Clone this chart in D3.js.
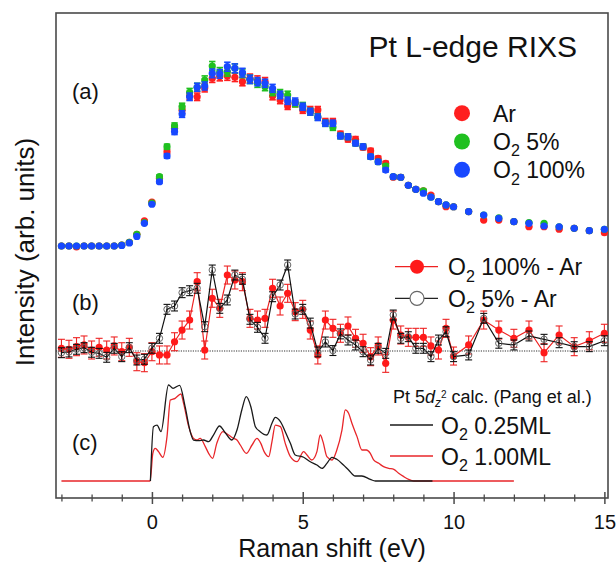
<!DOCTYPE html>
<html>
<head>
<meta charset="utf-8">
<script src="https://cdn.jsdelivr.net/npm/d3@7"></script>
<style>
body { margin: 0; background: #fff; }
text { font-family: "Liberation Sans", Arial, sans-serif; fill: #111; }
</style>
</head>
<body>
<script>
// Raman shift of the measured points (eV)
const energy = [-3, -2.75, -2.5, -2.25, -2, -1.75, -1.5, -1.25, -1, -0.75, -0.5, -0.25, 0, 0.25, 0.5, 0.75, 1, 1.25, 1.5, 1.75, 2, 2.25, 2.5, 2.75, 3, 3.25, 3.5, 3.75, 4, 4.25, 4.5, 4.75, 5, 5.25, 5.5, 5.75, 6, 6.25, 6.5, 6.75, 7, 7.25, 7.5, 7.75, 8, 8.25, 8.5, 8.75, 9, 9.25, 9.5, 9.75, 10, 10.5, 11, 11.5, 12, 12.5, 13, 13.5, 14, 14.5, 15];

// (a) RIXS spectra, normalised
const ar = [0, 0, -0.005, 0, 0, 0, 0, 0, 0.005, 0.02, 0.065, 0.14, 0.244, 0.376, 0.524, 0.654, 0.756, 0.833, 0.829, 0.878, 0.932, 0.941, 0.944, 0.937, 0.913, 0.932, 0.922, 0.913, 0.833, 0.811, 0.778, 0.793, 0.756, 0.756, 0.756, 0.691, 0.691, 0.622, 0.593, 0.593, 0.548, 0.529, 0.487, 0.459, 0.382, 0.382, 0.337, 0.315, 0.306, 0.283, 0.246, 0.218, 0.218, 0.191, 0.144, 0.144, 0.135, 0.107, 0.107, 0.093, 0.098, 0.085, 0.074];
const o2_5 = [0, 0, 0, 0, 0, 0, 0, 0, 0.005, 0.02, 0.065, 0.13, 0.239, 0.385, 0.552, 0.667, 0.774, 0.854, 0.882, 0.922, 1.0, 0.967, 0.968, 0.987, 0.959, 0.926, 0.904, 0.885, 0.857, 0.848, 0.839, 0.793, 0.778, 0.746, 0.717, 0.682, 0.659, 0.611, 0.607, 0.571, 0.552, 0.496, 0.468, 0.444, 0.385, 0.382, 0.337, 0.315, 0.306, 0.271, 0.246, 0.228, 0.218, 0.191, 0.172, 0.156, 0.135, 0.13, 0.126, 0.107, 0.098, 0.085, 0.093];
const o2_100 = [0, 0, 0, 0, 0, 0, 0, 0, 0.003, 0.017, 0.053, 0.126, 0.232, 0.357, 0.5, 0.635, 0.733, 0.829, 0.882, 0.889, 0.959, 0.956, 0.996, 0.987, 0.963, 0.926, 0.913, 0.904, 0.876, 0.839, 0.807, 0.802, 0.774, 0.746, 0.715, 0.682, 0.682, 0.611, 0.607, 0.571, 0.552, 0.496, 0.468, 0.422, 0.385, 0.382, 0.337, 0.315, 0.293, 0.271, 0.246, 0.228, 0.218, 0.191, 0.172, 0.154, 0.135, 0.126, 0.111, 0.107, 0.098, 0.085, 0.093];
const relErrA = 0.025;

// (b) difference spectra
const diff100 = [0.03, 0.019, 0.048, 0.067, 0.011, 0.041, 0.011, 0.056, -0.008, 0.041, -0.119, -0.13, -0.008, -0.044, -0.044, 0.103, 0.233, 0.344, 0.77, 0.011, 0.586, 0.474, 0.844, 0.789, 0.77, 0.363, 0.344, 0.363, 0.697, 0.5, 0.641, 0.437, 0.463, 0.233, -0.044, 0.344, 0.252, 0.197, 0.278, 0.141, 0.086, -0.063, 0.056, -0.137, 0.344, 0.178, 0.152, 0.152, 0.152, 0.056, 0.011, 0.252, -0.056, 0.067, 0.344, 0.233, 0.141, 0.233, -0.019, 0.178, 0.048, 0.114, 0.197];
const diff5 = [-0.019, -0.011, 0.019, 0.037, -0.014, -0.026, -0.07, 0.03, -0.063, 0.037, -0.1, -0.092, 0.03, 0.141, 0.463, 0.5, 0.648, 0.67, 0.697, 0.27, 0.9, 0.474, 0.567, 0.844, 0.797, 0.352, 0.263, 0.141, 0.603, 0.733, 0.956, 0.411, 0.463, 0.31, -0.01, 0.1, 0.005, 0.19, 0.122, 0.067, -0.008, -0.1, 0.03, -0.026, 0.4, 0.141, 0.159, 0.03, 0.03, -0.063, 0.122, 0.214, -0.063, -0.044, 0.363, 0.086, 0.067, 0.167, 0.13, 0.092, 0.048, 0.048, 0.114];
const errDiff100 = 0.1;
const errDiff5 = 0.055;

// (c) calculated Pt 5d_z2 spectra
const calcE025 = [-0.05, 0.05, 0.17, 0.3, 0.55, 0.7, 0.92, 1.1, 1.27, 1.38, 1.55, 1.71, 1.88, 2.04, 2.24, 2.43, 2.65, 2.82, 2.98, 3.13, 3.28, 3.43, 3.59, 3.81, 3.98, 4.09, 4.26, 4.42, 4.59, 4.75, 5.03, 5.25, 5.47, 5.64, 5.8, 5.97, 6.13, 6.35, 6.52, 6.74, 6.96, 7.24, 7.41, 9.3];
const calc025 = [0, 0.566, 0.583, 0.514, 1.0, 0.965, 0.997, 0.774, 0.514, 0.427, 0.42, 0.427, 0.41, 0.479, 0.573, 0.503, 0.427, 0.531, 0.74, 0.878, 0.774, 0.566, 0.514, 0.479, 0.601, 0.663, 0.618, 0.514, 0.392, 0.271, 0.247, 0.201, 0.167, 0.132, 0.184, 0.247, 0.226, 0.167, 0.115, 0.052, 0.052, 0.017, 0, 0];
const calcE100 = [-3, -0.06, 0.03, 0.11, 0.22, 0.36, 0.5, 0.61, 0.77, 0.96, 1.05, 1.22, 1.38, 1.49, 1.6, 1.77, 1.88, 2.01, 2.15, 2.35, 2.54, 2.71, 2.82, 2.93, 3.13, 3.32, 3.48, 3.61, 3.72, 3.87, 3.98, 4.09, 4.26, 4.42, 4.59, 4.81, 5.03, 5.14, 5.3, 5.47, 5.58, 5.67, 5.8, 5.97, 6.13, 6.3, 6.41, 6.52, 6.63, 6.8, 6.96, 7.11, 7.24, 7.35, 7.52, 7.68, 7.85, 8.02, 8.18, 8.35, 8.51, 8.68, 12];
const calc100 = [0, 0, 0.288, 0.34, 0.306, 0.247, 0.462, 0.844, 0.861, 0.906, 0.809, 0.566, 0.444, 0.427, 0.444, 0.358, 0.288, 0.236, 0.392, 0.514, 0.479, 0.444, 0.427, 0.375, 0.288, 0.375, 0.444, 0.392, 0.306, 0.253, 0.41, 0.583, 0.566, 0.392, 0.253, 0.201, 0.306, 0.271, 0.219, 0.306, 0.479, 0.41, 0.253, 0.219, 0.323, 0.531, 0.74, 0.705, 0.601, 0.462, 0.323, 0.323, 0.288, 0.219, 0.184, 0.149, 0.132, 0.122, 0.08, 0.045, 0.017, 0, 0];

// tick labels
const xMajor = [0, 5, 10, 15];
const xMinor = [-3, -2, -1, 1, 2, 3, 4, 6, 7, 8, 9, 11, 12, 13, 14];

// set the dimensions and margins of the graph
const margin = {top: 13, right: 8, bottom: 64, left: 56},
    width = 616 - margin.left - margin.right,
    height = 562 - margin.top - margin.bottom;

const frameColor = "#4a4a4a";

const svg = d3.select("body")
    .append("svg")
    .attr("width", width + margin.left + margin.right)
    .attr("height", height + margin.top + margin.bottom)
  .append("g")
    .attr("transform", "translate(" + margin.left + "," + margin.top + ")");

// scales: one shared x, one y per stacked panel
const x = d3.scaleLinear().domain([-3.18, 15.12]).range([0, width]);
const yA = d3.scaleLinear().domain([0, 1]).range([233, 53]);
const yB = d3.scaleLinear().domain([0, 1]).range([338, 248]);
const yC = d3.scaleLinear().domain([0, 1]).range([468, 372]);

// frame
svg.append("rect")
    .attr("width", width)
    .attr("height", height)
    .attr("fill", "none")
    .attr("stroke", frameColor)
    .attr("stroke-width", 1.6);

// x axis, ticks crossing the bottom line
const axisMajor = svg.append("g")
    .attr("transform", "translate(0," + height + ")")
    .call(d3.axisBottom(x).tickValues(xMajor).tickSize(0).tickFormat(d3.format("d")));
axisMajor.select(".domain").remove();
axisMajor.selectAll(".tick line")
    .attr("y1", -6).attr("y2", 6)
    .attr("stroke", frameColor).attr("stroke-width", 1.5);
axisMajor.selectAll(".tick text")
    .attr("y", 17).attr("dy", "0.71em")
    .style("font-size", "20px");

const axisMinor = svg.append("g")
    .attr("transform", "translate(0," + height + ")")
    .call(d3.axisBottom(x).tickValues(xMinor).tickSize(0).tickFormat(""));
axisMinor.select(".domain").remove();
axisMinor.selectAll(".tick line")
    .attr("y1", -3.5).attr("y2", 3.5)
    .attr("stroke", frameColor).attr("stroke-width", 1.3);

// axis titles
svg.append("text")
    .attr("x", width / 2)
    .attr("y", 544)
    .attr("text-anchor", "middle")
    .style("font-size", "25px")
    .text("Raman shift (eV)");

svg.append("text")
    .attr("transform", "translate(-22,239)rotate(-90)")
    .attr("text-anchor", "middle")
    .style("font-size", "26px")
    .text("Intensity (arb. units)");

svg.append("text")
    .attr("x", 521)
    .attr("y", 44)
    .attr("text-anchor", "end")
    .style("font-size", "30px")
    .text("Pt L-edge RIXS");

// panel letters
[["(a)", 86], ["(b)", 297], ["(c)", 437]].forEach(function(p) {
  svg.append("text")
      .attr("x", 16)
      .attr("y", p[1])
      .style("font-size", "22px")
      .text(p[0]);
});

// helper for error bars with caps
function errorBars(g, vals, err, yScale, color, cap, width) {
  const pts = energy.map(function(e, i) { return {e: e, v: vals[i], err: err(i)}; });
  g.selectAll(null).data(pts).enter().append("line")
      .attr("x1", function(d) { return x(d.e); })
      .attr("x2", function(d) { return x(d.e); })
      .attr("y1", function(d) { return yScale(d.v - d.err); })
      .attr("y2", function(d) { return yScale(d.v + d.err); })
      .attr("stroke", color).attr("stroke-width", width);
  [-1, 1].forEach(function(s) {
    g.selectAll(null).data(pts).enter().append("line")
        .attr("x1", function(d) { return x(d.e) - cap; })
        .attr("x2", function(d) { return x(d.e) + cap; })
        .attr("y1", function(d) { return yScale(d.v + s * d.err); })
        .attr("y2", function(d) { return yScale(d.v + s * d.err); })
        .attr("stroke", color).attr("stroke-width", width);
  });
}

// subscripted O2 labels
function o2Label(t, rest, size) {
  t.append("tspan").text("O");
  t.append("tspan").attr("dy", size * 0.28).style("font-size", (size * 0.7) + "px").text("2");
  t.append("tspan").attr("dy", -size * 0.28).text(" " + rest);
}

// ---- panel (a)
const seriesA = [
  {values: ar, color: "#ff1f1f"},
  {values: o2_5, color: "#20c020"},
  {values: o2_100, color: "#1848ff"}
];

seriesA.forEach(function(s) {
  const g = svg.append("g");
  errorBars(g, s.values, function(i) { return Math.abs(s.values[i]) * relErrA; }, yA, s.color, 3.2, 1.6);
  g.selectAll(null).data(energy).enter().append("circle")
      .attr("cx", function(d) { return x(d); })
      .attr("cy", function(d, i) { return yA(s.values[i]); })
      .attr("r", 3.6)
      .attr("fill", s.color);
});

// legend (a)
const legA = [["Ar", null, "#ff1f1f"], ["O", "5%", "#20c020"], ["O", "100%", "#1848ff"]];
legA.forEach(function(l, i) {
  const yy = 108.7 + i * 28.3;
  svg.append("circle").attr("cx", 406).attr("cy", yy - 8.5).attr("r", 8).attr("fill", l[2]);
  const t = svg.append("text").attr("x", 437).attr("y", yy).style("font-size", "23px");
  if (l[1] === null) t.text(l[0]); else o2Label(t, l[1], 23);
});

// ---- panel (b)
svg.append("line")
    .attr("x1", 0).attr("x2", width)
    .attr("y1", yB(0)).attr("y2", yB(0))
    .attr("stroke", "#333").attr("stroke-width", 1.2)
    .attr("stroke-dasharray", "1.2,1.2");

const lineB = function(vals) {
  return d3.line()
      .x(function(d) { return x(d); })
      .y(function(d, i) { return yB(vals[i]); })(energy);
};

// O2 100% - Ar
const gRed = svg.append("g");
gRed.append("path").attr("d", lineB(diff100))
    .attr("fill", "none").attr("stroke", "#ee2222").attr("stroke-width", 1.2);
errorBars(gRed, diff100, function() { return errDiff100; }, yB, "#ee2222", 3.5, 1.1);
gRed.selectAll(null).data(energy).enter().append("circle")
    .attr("cx", function(d) { return x(d); })
    .attr("cy", function(d, i) { return yB(diff100[i]); })
    .attr("r", 3.6)
    .attr("fill", "#ff1a1a");

// O2 5% - Ar
const gBlk = svg.append("g");
gBlk.append("path").attr("d", lineB(diff5))
    .attr("fill", "none").attr("stroke", "#111").attr("stroke-width", 1.2);
errorBars(gBlk, diff5, function() { return errDiff5; }, yB, "#111", 3.5, 1.1);
gBlk.selectAll(null).data(energy).enter().append("circle")
    .attr("cx", function(d) { return x(d); })
    .attr("cy", function(d, i) { return yB(diff5[i]); })
    .attr("r", 3.2)
    .attr("fill", "none")
    .attr("stroke", "#666").attr("stroke-width", 1);

// legend (b)
[["100% - Ar", "#ee2222", true], ["5% - Ar", "#222", false]].forEach(function(l, i) {
  const yy = 253.7 + i * 31.6;
  svg.append("line").attr("x1", 339).attr("x2", 382).attr("y1", yy).attr("y2", yy)
      .attr("stroke", l[1]).attr("stroke-width", 1.3);
  svg.append("circle").attr("cx", 361).attr("cy", yy).attr("r", 7)
      .attr("fill", l[2] ? "#ff1a1a" : "#fff")
      .attr("stroke", l[2] ? "none" : "#666").attr("stroke-width", 1.2);
  const t = svg.append("text").attr("x", 392).attr("y", yy + 8.5).style("font-size", "23px");
  o2Label(t, l[0], 23);
});

// ---- panel (c)
const lineC = d3.line()
    .x(function(d) { return x(d[0]); })
    .y(function(d) { return yC(d[1]); })
    .curve(d3.curveMonotoneX);

svg.append("path")
    .attr("d", lineC(calcE100.map(function(e, i) { return [e, calc100[i]]; })))
    .attr("fill", "none").attr("stroke", "#e8262a").attr("stroke-width", 1.3);
svg.append("path")
    .attr("d", lineC(calcE025.map(function(e, i) { return [e, calc025[i]]; })))
    .attr("fill", "none").attr("stroke", "#1a1a1a").attr("stroke-width", 1.3);

// legend (c)
const calcTitle = svg.append("text").attr("x", 337).attr("y", 390).style("font-size", "18px");
calcTitle.append("tspan").text("Pt 5");
calcTitle.append("tspan").style("font-style", "italic").text("d");
calcTitle.append("tspan").attr("dy", 4).style("font-size", "12px").style("font-style", "italic").text("z");
calcTitle.append("tspan").attr("dy", -9).style("font-size", "10px").text("2");
calcTitle.append("tspan").attr("dy", 5).text(" calc. (Pang et al.)");

[["0.25ML", "#1a1a1a"], ["1.00ML", "#e8262a"]].forEach(function(l, i) {
  const yy = 412 + i * 31;
  svg.append("line").attr("x1", 334).attr("x2", 377).attr("y1", yy).attr("y2", yy)
      .attr("stroke", l[1]).attr("stroke-width", 1.3);
  const t = svg.append("text").attr("x", 385).attr("y", yy + 8.5).style("font-size", "23px");
  o2Label(t, l[0], 23);
});
</script>
</body>
</html>
